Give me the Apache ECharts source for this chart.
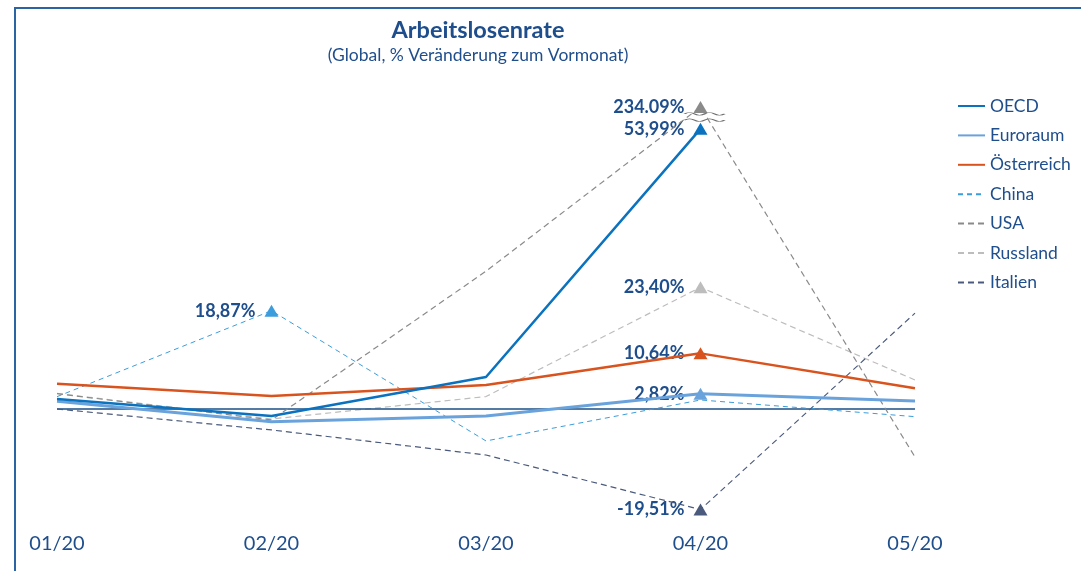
<!DOCTYPE html>
<html>
<head>
<meta charset="utf-8">
<script src="https://cdn.jsdelivr.net/npm/echarts@6/dist/echarts.min.js"></script>
<style>
html,body{margin:0;padding:0;background:#fff;}
#chart{width:1081px;height:571px;}
</style>
</head>
<body>
<div id="chart"></div>
<script>
const categories = ['01/20', '02/20', '03/20', '04/20', '05/20'];
const oecd        = [1.83, -1.45, 6.08, 53.99, null];
const euroraum    = [1.39, -2.55, -1.45, 2.82, 1.45];
const oesterreich = [4.79, 2.41, 4.54, 10.64, 3.9];
const china       = [2.28, 18.87, -6.27, 1.64, -1.58];
const usa         = [2.86, -2.22, 26.5, 234.09, -9.36];
const russland    = [2.9, -2.03, 2.3, 23.40, 5.5];
const italien     = [-0.1, -4.15, -8.98, -19.51, 18.4];
const axisCap = 58.2; // broken axis: values above are drawn at the cap

const FONT = 'Lato, "Open Sans", sans-serif';
const TXT = '#1f4e8c';

function fmt(v, sep) { return v.toFixed(2).replace('.', sep) + '%'; }
function peak(values, idx, color, sep) {
  const v = values[idx];
  return {
    coord: [idx, Math.min(v, axisCap)],
    symbol: 'triangle', symbolSize: [14, 12],
    itemStyle: { color: color },
    label: { show: true, position: 'left', distance: 9, formatter: fmt(v, sep || ','),
      color: TXT, fontWeight: 'bold', fontSize: 18, fontFamily: FONT }
  };
}
function lineSeries(name, values, color, width, type, z, peakIdx, extra) {
  const s = {
    name: name, type: 'line', data: values.map(v => v === null ? null : Math.min(v, axisCap)),
    symbol: 'none', z: z, color: color,
    lineStyle: { color: color, width: width, type: type },
    markPoint: { silent: true, data: [peak(values, peakIdx, color, extra && extra.sep)] }
  };
  return Object.assign(s, extra && extra.more ? extra.more : {});
}

const chart = echarts.init(document.getElementById('chart'), null, { renderer: 'canvas' });
const series = [
  lineSeries('OECD', oecd, '#0a72bf', 2.5, 'solid', 10, 3, { more: {
    markLine: { silent: true, symbol: 'none', label: { show: false },
      lineStyle: { color: '#1b4f86', width: 1.5, type: 'solid' }, data: [{ yAxis: 0 }] } } }),
  lineSeries('Euroraum', euroraum, '#6aa3dc', 3, 'solid', 9, 3),
  lineSeries('Österreich', oesterreich, '#d9531e', 2.5, 'solid', 9, 3),
  lineSeries('China', china, '#3b9ddb', 1, [5, 4], 5, 1),
  lineSeries('USA', usa, '#8a8a8a', 1.2, [6, 4], 5, 3, { sep: '.' }),
  lineSeries('Russland', russland, '#bdbdbd', 1.2, [6, 4], 4, 3),
  lineSeries('Italien', italien, '#4a5a7c', 1.2, [6, 4], 5, 3)
];
// break mark on the USA peak
series[4].markPoint.data.push({
  coord: [3, axisCap], symbol: 'path://M0,3 Q5,0 10,3 T20,3 T30,3 T40,3 M0,10 Q5,7 10,10 T20,10 T30,10 T40,10',
  symbolSize: [40, 9], symbolOffset: [4, 10],
  itemStyle: { color: 'rgba(0,0,0,0)', borderColor: '#6e6e6e', borderWidth: 1.3 },
  label: { show: false }
});

chart.setOption({
  backgroundColor: '#ffffff',
  animation: false,
  textStyle: { fontFamily: FONT },
  grid: { left: 57, right: 166, top: 97.7, bottom: 43.4, containLabel: false },
  xAxis: {
    type: 'category', data: categories, boundaryGap: false,
    axisLine: { show: false }, axisTick: { show: false }, splitLine: { show: false },
    axisLabel: { color: TXT, fontSize: 20, fontFamily: FONT, margin: 6 }
  },
  yAxis: { type: 'value', min: -23, max: 60, show: false, splitLine: { show: false } },
  legend: {
    orient: 'vertical', left: 957, top: 97, padding: 0, itemWidth: 27, itemHeight: 14, itemGap: 11.4,
    itemStyle: { opacity: 0 },
    textStyle: { color: TXT, fontSize: 17.5, fontFamily: FONT, padding: [0, 0, 0, 0] },
    data: ['OECD', 'Euroraum', 'Österreich', 'China', 'USA', 'Russland', 'Italien']
  },
  graphic: [
    { type: 'polyline', shape: { points: [[15, 571], [15, 8], [1081, 8]] },
      style: { stroke: '#2b64a3', lineWidth: 2, fill: null }, silent: true },
    { type: 'text', x: 478, y: 30, style: { text: 'Arbeitslosenrate', fill: TXT,
      font: 'bold 23.5px ' + FONT, textAlign: 'center', textVerticalAlign: 'middle' } },
    { type: 'text', x: 478, y: 55, style: { text: '(Global, % Veränderung zum Vormonat)', fill: TXT,
      font: '17.5px ' + FONT, textAlign: 'center', textVerticalAlign: 'middle' } }
  ],
  series: series
});
</script>
</body>
</html>
